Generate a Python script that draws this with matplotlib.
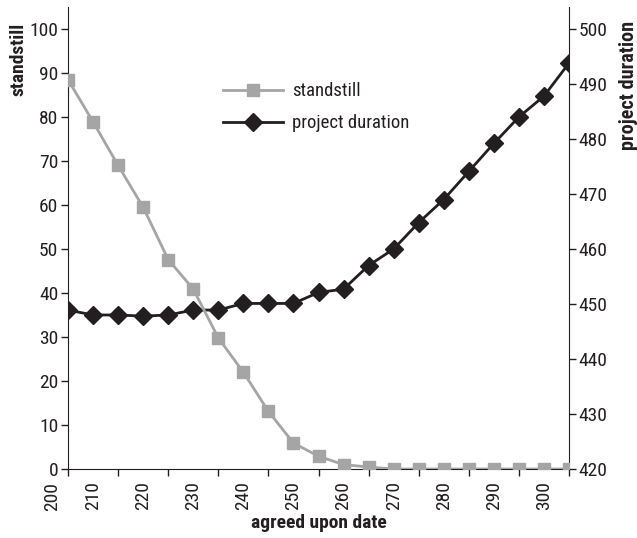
import matplotlib
matplotlib.use("Agg")
import matplotlib.pyplot as plt
from matplotlib.ticker import MultipleLocator
import matplotlib.transforms as mtransforms

plt.rcParams['font.family'] = ['Roboto Condensed', 'DejaVu Sans']

# data
agreed_date = [205, 210, 215, 220, 225, 230, 235, 240, 245, 250, 255,
               260, 265, 270, 275, 280, 285, 290, 295, 300, 305]
standstill = [88.5, 78.9, 69.0, 59.5, 47.6, 40.9, 29.8, 22.0, 13.1, 5.9, 2.9,
              1.0, 0.45, 0, 0, 0, 0, 0, 0, 0, 0]
project_duration = [448.9, 448.0, 448.0, 447.8, 448.0, 448.9, 448.9, 450.1, 450.1, 450.1, 452.1,
                    452.7, 457.0, 460.0, 464.8, 469.0, 474.1, 479.2, 484.0, 487.8, 493.8]
x_labels = [210, 220, 230, 240, 250, 260, 270, 280, 290, 300]

gray = "#a5a5a5"
dark = "#231f20"

fig = plt.figure(figsize=(6.37, 5.38), dpi=100)
ax = fig.add_axes([68 / 637, 1 - 469 / 538, (569 - 68) / 637, (469 - 7) / 538])
ax2 = ax.twinx()

l1, = ax.plot(agreed_date, standstill, color=gray, lw=2, marker="s", ms=9,
              markerfacecolor=gray, markeredgecolor=gray, label="standstill", zorder=3)
l2, = ax2.plot(agreed_date, project_duration, color=dark, lw=2, marker="D", ms=9,
               markerfacecolor=dark, markeredgecolor=dark, label="project duration", zorder=3)

ax.set_xlim(205, 305)
ax.set_ylim(0, 105)
ax2.set_ylim(420, 504)
ax.set_zorder(ax2.get_zorder() + 1)
ax.patch.set_visible(False)

ax.yaxis.set_major_locator(MultipleLocator(10))
ax2.yaxis.set_major_locator(MultipleLocator(10))
ax.set_xticks(x_labels)
ax.set_xticklabels([str(v) for v in x_labels], rotation=90)
ax.xaxis.set_minor_locator(MultipleLocator(5))
ax.tick_params(axis="x", which="major", length=0, pad=9, labelsize=14, labelcolor=dark)
ax.tick_params(axis="x", which="minor", length=5, width=1, color=dark)
ax.tick_params(axis="y", length=5, width=1, labelsize=14, color=dark, labelcolor=dark, pad=2)
ax2.tick_params(axis="y", length=5, width=1, labelsize=14, color=dark, labelcolor=dark, pad=2)

# the first label sits left of the spine in the original
trans = mtransforms.blended_transform_factory(ax.transData, ax.transAxes)
ax.text(201.9, -0.028, "200", rotation=90, ha="center", va="top", fontsize=14,
        color=dark, transform=trans)

for a in (ax, ax2):
    a.spines["top"].set_visible(False)
    a.spines["left"].set_color(dark)
    a.spines["right"].set_color(dark)
    a.spines["bottom"].set_color(dark)
ax.spines["right"].set_visible(False)
ax2.spines["left"].set_visible(False)
ax2.spines["bottom"].set_visible(False)

fig.text(19 / 637, 1 - 59 / 538, "standstill", rotation=90, ha="center", va="center",
         fontsize=14, fontweight="bold", color=dark)
fig.text(629 / 637, 1 - 85 / 538, "project duration", rotation=90, ha="center", va="center",
         fontsize=14.5, fontweight="bold", color=dark)
fig.text(319 / 637, 1 - 523 / 538, "agreed upon date", ha="center", va="center",
         fontsize=14, fontweight="bold", color=dark)

ax.legend(handles=[l1, l2], loc="upper left", bbox_to_anchor=(0.275, 0.874),
          frameon=False, fontsize=13.5, handlelength=3.2, handletextpad=0.5,
          labelspacing=0.75, labelcolor=dark)

fig.savefig("out.png", dpi=100)
